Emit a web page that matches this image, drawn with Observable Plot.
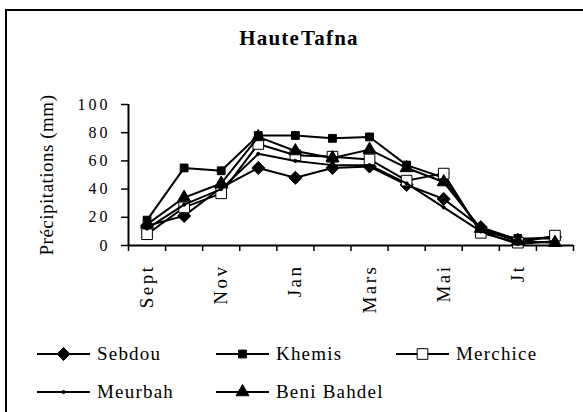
<!DOCTYPE html>
<html>
<head>
<meta charset="utf-8">
<script src="https://cdn.jsdelivr.net/npm/d3@7"></script>
<script src="https://cdn.jsdelivr.net/npm/@observablehq/plot@0.6"></script>
<style>
html, body { margin: 0; padding: 0; background: #fff; width: 583px; height: 412px; overflow: hidden; }
#frame { position: absolute; left: 5px; top: 9px; width: 700px; height: 500px; border-top: 2.5px solid #000; border-left: 2.5px solid #000; }
#title { position: absolute; left: 0; width: 598px; top: 26px; line-height: 21px; text-align: center; font: bold 21px "Liberation Serif", "Times New Roman", serif; letter-spacing: 1.2px; word-spacing: -5px; color: #000; }
#chart { position: absolute; left: 0; top: 0; }
.leg { position: absolute; height: 22px; display: flex; align-items: center; font: 19px "Liberation Serif", "Times New Roman", serif; letter-spacing: 1.2px; color: #000; line-height: 22px; white-space: nowrap; }
.leg svg { display: block; margin-right: 7px; }
g[aria-label="x-axis tick label"] text { letter-spacing: 2.5px; }
g[aria-label="y-axis tick label"] text { letter-spacing: 3px; }
g[aria-label="y-axis label"] text { letter-spacing: 0.5px; font-size: 19px; }
</style>
</head>
<body>
<div id="frame"></div>
<div id="title">Haute Tafna</div>
<div id="chart"></div>
<div id="legend"></div>
<script>
// Months (Sept → Août) and the labels shown on the x axis
const months = ["Sept", "Oct", "Nov", "Déc", "Jan", "Fév", "Mars", "Avr", "Mai", "Juin", "Jt", "Août"];
const tickLabels = ["Sept", "Nov", "Jan", "Mars", "Mai", "Jt"];
const yTicks = [0, 20, 40, 60, 80, 100];

// Précipitations (mm) per station
const sebdou     = [14, 21, 41, 55, 48, 55, 56, 43, 33, 13, 4, 6];
const khemis     = [18, 55, 53, 78, 78, 76, 77, 57, 48, 10, 5, 5];
const merchice   = [8, 27, 37, 72, 64, 63, 61, 46, 51, 9, 2, 7];
const meurbah    = [12, 29, 40, 65, 60, 57, 57, 44, 27, 10, 1, 3];
const beniBahdel = [15, 34, 44, 77, 67, 62, 68, 55, 45, 12, 3, 2];

const seriesNames = ["Sebdou", "Khemis", "Merchice", "Meurbah", "Beni Bahdel"];
const seriesValues = [sebdou, khemis, merchice, meurbah, beniBahdel];
const markers = {
  "Sebdou":      {symbol: "diamond2", r: 5.9, fill: "black"},
  "Khemis":      {symbol: "square",   r: 4.4, fill: "black"},
  "Merchice":    {symbol: "square",   r: 6.0, fill: "white"},
  "Meurbah":     {symbol: "circle",   r: 1.6, fill: "black"},
  "Beni Bahdel": {symbol: "triangle", r: 4.8, fill: "black"}
};

const data = seriesNames.flatMap((s, k) =>
  seriesValues[k].map((v, i) => ({series: s, month: months[i], pos: i + 0.5, value: v}))
);

const seriesMarks = seriesNames.flatMap(s => {
  const rows = data.filter(d => d.series === s);
  const m = markers[s];
  return [
    Plot.line(rows, {x: "pos", y: "value", stroke: "black", strokeWidth: 2}),
    Plot.dot(rows, {x: "pos", y: "value", symbol: m.symbol, r: m.r, fill: m.fill, stroke: "black", strokeWidth: 1})
  ];
});

const tickPositions = tickLabels.map(l => months.indexOf(l) + 0.5);

const chart = Plot.plot({
  width: 583,
  height: 320,
  marginLeft: 128,
  marginRight: 10,
  marginTop: 104,
  marginBottom: 75,
  x: {domain: [0, months.length]},
  y: {domain: [0, 100]},
  style: {background: "transparent", fontFamily: "'Liberation Serif', 'Times New Roman', serif", fontSize: "16px", color: "black", overflow: "visible"},
  marks: [
    Plot.axisY({ticks: yTicks, tickSize: 7, tickPadding: 11, strokeWidth: 1.5, fontSize: 16,
      label: "Précipitations (mm)", labelAnchor: "center", labelOffset: 89, labelArrow: "none"}),
    Plot.axisX({ticks: d3.range(months.length + 1), tickSize: 6, strokeWidth: 1.5, tickFormat: () => "", label: null}),
    Plot.axisX({ticks: tickPositions, tickSize: 0, tickPadding: 19, tickRotate: -90, fontSize: 19,
      tickFormat: d => months[Math.floor(d)], label: null}),
    Plot.ruleX([0], {stroke: "black", strokeWidth: 2}),
    Plot.ruleY([0], {stroke: "black", strokeWidth: 2}),
    ...seriesMarks
  ]
});
document.getElementById("chart").appendChild(chart);

// Legend
const legendPos = {
  "Sebdou":      {left: 37,  cy: 354},
  "Khemis":      {left: 216, cy: 354},
  "Merchice":    {left: 396, cy: 354},
  "Meurbah":     {left: 37,  cy: 392},
  "Beni Bahdel": {left: 216, cy: 392}
};
const symbolMap = {diamond2: d3.symbolDiamond2, square: d3.symbolSquare, circle: d3.symbolCircle, triangle: d3.symbolTriangle};
const legend = d3.select("#legend");
seriesNames.forEach(s => {
  const p = legendPos[s];
  const m = markers[s];
  const item = legend.append("div").attr("class", "leg")
    .style("left", p.left + "px").style("top", (p.cy - 11) + "px");
  const svg = item.append("svg").attr("width", 53).attr("height", 22);
  svg.append("line").attr("x1", 0).attr("x2", 53).attr("y1", 11).attr("y2", 11)
    .attr("stroke", "black").attr("stroke-width", 2);
  svg.append("path")
    .attr("transform", "translate(26.5,11)")
    .attr("d", d3.symbol(symbolMap[m.symbol], Math.PI * m.r * m.r)())
    .attr("fill", m.fill).attr("stroke", "black").attr("stroke-width", 1);
  item.append("span").text(s);
});
</script>
</body>
</html>
